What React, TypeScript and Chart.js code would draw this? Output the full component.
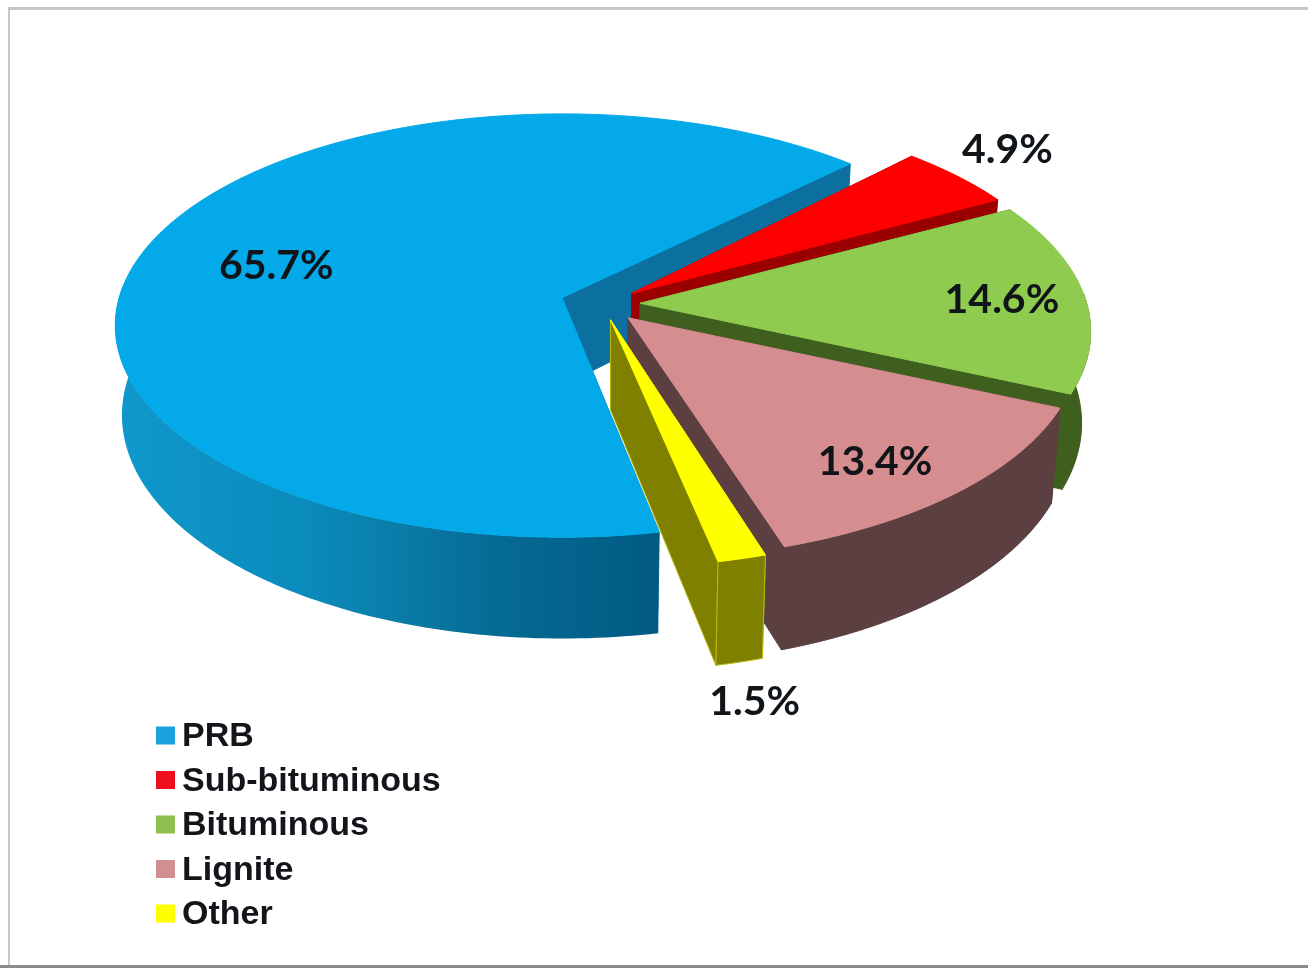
import React, { useEffect, useRef } from "react";
import { Chart, registerables } from "chart.js";

Chart.register(...registerables);

const categories = ["PRB", "Sub-bituminous", "Bituminous", "Lignite", "Other"];
const shares = [65.7, 4.9, 14.6, 13.4, 1.5];
const sliceColors = ["#03a9e8", "#ff0000", "#8ecb4f", "#d68d90", "#ffff00"];
const sideColors = ["#0b6f9f", "#9a0000", "#3f5f1e", "#5c3f40", "#7f7f00"];
const explode = [9.45, 8.36, 8.6, 8.95, 8];
const sliceTurn = [0, -1.5, -1.2, -1.4, -0.8];
const sliceReach = [1, 1, 1.008, 1.01, 1.03];
const sliceDepth = [88, 90, 90, 90, 90];
const sliceShrink = [0.985, 0.98, 0.98, 0.98, 0.98];
const labelReach = [0.68, 1.21, 0.82, 0.81, 1.497];
const labelTurn = [-3, -3.6, -1, 1.3, 3.6];
const legendSwatches = ["#1ba1dc", "#ee0f1c", "#8ebf4f", "#d08f93", "#ffff00"];

const W = 1308;
const H = 968;
const BASE_X = 602;
const BASE_Y = 303.5;
const RX = 443;
const RY = 208;
const PERSP = 0.1315;
const RAD = Math.PI / 180;

type P = { x: number; y: number; w: number };
const proj = (a: number, r: number): P => {
  const X = r * Math.sin(a);
  const Y = r * Math.cos(a);
  const w = 1 + PERSP * Y;
  return { x: (RX * X) / w, y: (-RY * Y) / w, w };
};

const pie3d = {
  id: "pie3d",
  beforeDraw(chart: any) {
    const c = chart.ctx;
    c.save();
    c.fillStyle = "#ffffff";
    c.fillRect(0, 0, W, H);
    c.fillStyle = "#c6c6c6";
    c.fillRect(8, 7, W - 8, 3);
    c.fillRect(8, 7, 2, H - 7);
    c.fillStyle = "#8c8c8c";
    c.fillRect(0, 965, W, 3);
    c.restore();
  },
  beforeDatasetDraw(chart: any) {
    const c = chart.ctx;
    const arcs = chart.getDatasetMeta(0).data;
    c.save();
    arcs.forEach((arc: any, i: number) => {
      const a0 = arc.startAngle + Math.PI / 2 + sliceTurn[i] * RAD;
      const a1 = arc.endAngle + Math.PI / 2 + sliceTurn[i] * RAD;
      const mid = (arc.startAngle + arc.endAngle) / 2 + Math.PI / 2;
      const off = proj(mid, arc.options.offset / 100);
      const ax = BASE_X + off.x;
      const ay = BASE_Y + off.y;
      const R = sliceReach[i];
      const top = (a: number, r: number) => {
        const p = proj(a, r * R);
        return [ax + p.x, ay + p.y];
      };
      const bot = (a: number, r: number) => {
        const p = proj(a, r * R);
        return [ax + p.x * sliceShrink[i], ay + p.y + sliceDepth[i] / p.w];
      };
      const n = Math.max(2, Math.ceil((a1 - a0) / RAD));
      const ang = Array.from({ length: n + 1 }, (_, k) => a0 + ((a1 - a0) * k) / n);
      const front = ang.filter((t) => Math.cos(t) <= 0.05);
      const poly = (pts: number[][], fill: any, line?: string) => {
        c.beginPath();
        pts.forEach((q, k) => (k ? c.lineTo(q[0], q[1]) : c.moveTo(q[0], q[1])));
        c.closePath();
        c.fillStyle = fill;
        c.fill();
        c.lineWidth = 1;
        c.strokeStyle = line || (typeof fill === "string" ? fill : "rgba(0,0,0,0)");
        c.stroke();
      };
      const edgeLine = i === 4 ? "#b9b90c" : undefined;
      let outer: any = sideColors[i];
      if (i === 0) {
        const g = c.createLinearGradient(113, 0, 660, 0);
        g.addColorStop(0, "#1098cc");
        g.addColorStop(0.34, "#0a8cbc");
        g.addColorStop(0.525, "#0a7ca8");
        g.addColorStop(0.71, "#056a94");
        g.addColorStop(1, "#015a82");
        outer = g;
      }
      poly([top(a0, 0), top(a0, 1), bot(a0, 1), bot(a0, 0)], sideColors[i], edgeLine);
      poly([top(a1, 0), top(a1, 1), bot(a1, 1), bot(a1, 0)], sideColors[i], edgeLine);
      if (front.length > 1) {
        poly([...front.map((t) => top(t, 1)), ...front.slice().reverse().map((t) => bot(t, 1))], outer, edgeLine);
      }
      poly([top(a0, 0), ...ang.map((t) => top(t, 1))], arc.options.backgroundColor);
    });
    c.restore();
    return false;
  },
  afterDatasetsDraw(chart: any) {
    const c = chart.ctx;
    const arcs = chart.getDatasetMeta(0).data;
    c.save();
    c.fillStyle = "#10151a";
    c.font = "bold 41px Lato";
    c.textAlign = "center";
    c.textBaseline = "middle";
    arcs.forEach((arc: any, i: number) => {
      const mid = (arc.startAngle + arc.endAngle) / 2 + Math.PI / 2;
      const off = proj(mid, arc.options.offset / 100);
      const p = proj(mid + labelTurn[i] * RAD, labelReach[i]);
      c.fillText(`${shares[i].toFixed(1)}%`, BASE_X + off.x + p.x, BASE_Y + off.y + p.y + 2);
    });
    c.font = "bold 34px 'Liberation Sans'";
    c.textAlign = "left";
    categories.forEach((name, i) => {
      const y = 735.5 + i * 44.5;
      c.fillStyle = legendSwatches[i];
      c.fillRect(156, y - 9, 19, 18);
      c.fillStyle = "#14141a";
      c.fillText(name, 182, y + 1.5);
    });
    c.restore();
  },
};

export default function App() {
  const ref = useRef<HTMLCanvasElement | null>(null);
  useEffect(() => {
    document.body.style.margin = "0";
    const chart = new Chart(ref.current as HTMLCanvasElement, {
      type: "pie",
      data: {
        labels: categories,
        datasets: [{ data: shares, backgroundColor: sliceColors, offset: explode, borderWidth: 0 }],
      },
      options: {
        responsive: false,
        animation: false,
        rotation: 169,
        plugins: { legend: { display: false }, tooltip: { enabled: false } },
      },
      plugins: [pie3d],
    } as any);
    return () => chart.destroy();
  }, []);
  return (
    <canvas
      ref={ref}
      width={W}
      height={H}
      style={{ display: "block", width: W, height: H, filter: "blur(0.6px)" }}
    />
  );
}
